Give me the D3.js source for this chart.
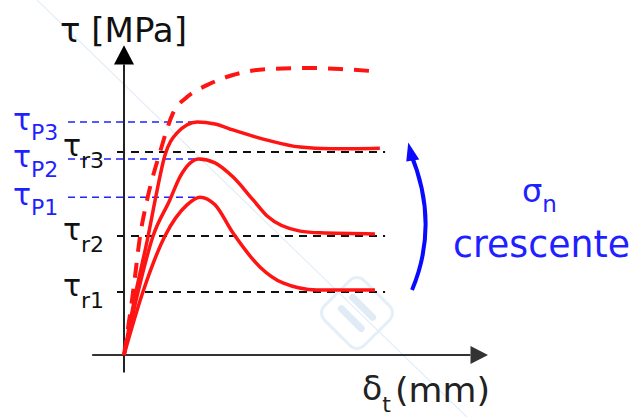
<!DOCTYPE html>
<html>
<head>
<meta charset="utf-8">
<script src="https://d3js.org/d3.v7.min.js"></script>
<style>
  body { margin: 0; background: #fff; }
  text { font-family: "DejaVu Sans", Verdana, sans-serif; }
</style>
</head>
<body>
<svg id="main_vis" width="635" height="417"></svg>
<script>
// ---- data (slip mm, shear MPa; arbitrary units) ----
var curve1 = [[0,0],[0.54,1.8],[1.17,3.4],[1.8,4.29],[2.17,4.51],[2.6,4.29],[3.11,3.49],[3.89,2.51],[4.54,2.06],[5.51,1.86],[7.17,1.86]];
var curve2 = [[0,0],[0.4,1.8],[0.83,3.4],[1.31,4.43],[1.6,5.09],[2.14,5.6],[2.6,5.49],[3.11,5.09],[3.69,4.43],[4.09,3.97],[5.03,3.54],[5.6,3.49],[7.17,3.46]];
var curve3 = [[0,0],[0.34,1.8],[0.69,3.4],[0.89,4.43],[1.17,5.71],[1.51,6.34],[2.09,6.66],[2.6,6.6],[3.11,6.43],[4.09,6.14],[5.03,5.94],[5.89,5.89],[7.31,5.91]];
var envelope = [[0,0],[0.26,1.8],[0.46,3.4],[0.66,4.43],[1.03,5.8],[1.4,6.91],[1.8,7.37],[2.37,7.71],[3.11,8.0],[4.09,8.17],[5.4,8.2],[6.17,8.17],[7.11,8.11]];

var peakLevels = [4.51, 5.6, 6.66];
var peakNames = ["P1", "P2", "P3"];
var resLevels = [1.8, 3.4, 5.8];
var resNames = ["r1", "r2", "r3"];

var svg = d3.select("#main_vis");

var x = d3.scaleLinear().domain([0, 10]).range([124, 474]);
var y = d3.scaleLinear().domain([0, 10]).range([355, 5]);

// faint watermark
svg.append("line")
  .attr("x1", 37).attr("y1", 0).attr("x2", 467).attr("y2", 417)
  .attr("stroke", "#e3eef8").attr("stroke-width", 1.2);
var wm = svg.append("g").attr("transform", "translate(357,313) rotate(45)");
wm.append("rect").attr("x", -28).attr("y", -28).attr("width", 56).attr("height", 56)
  .attr("rx", 10).attr("fill", "none").attr("stroke", "#e6eff8").attr("stroke-width", 3);
wm.append("line").attr("x1", -14).attr("y1", -8).attr("x2", 14).attr("y2", -8)
  .attr("stroke", "#e0ebf6").attr("stroke-width", 7).attr("stroke-linecap", "round");
wm.append("line").attr("x1", -14).attr("y1", 8).attr("x2", 14).attr("y2", 8)
  .attr("stroke", "#e0ebf6").attr("stroke-width", 7).attr("stroke-linecap", "round");

// reference lines
svg.selectAll("line.peak")
  .data(peakLevels)
  .enter().append("line")
  .attr("class", "peak")
  .attr("x1", x(-1.6)).attr("x2", x(2.2))
  .attr("y1", function(d) { return y(d); })
  .attr("y2", function(d) { return y(d); })
  .attr("stroke", "#2222ff").attr("stroke-width", 1.5)
  .attr("stroke-dasharray", "7,5");

svg.selectAll("line.res")
  .data(resLevels)
  .enter().append("line")
  .attr("class", "res")
  .attr("x1", x(-0.2)).attr("x2", x(7.46))
  .attr("y1", function(d) { return y(d); })
  .attr("y2", function(d) { return y(d); })
  .attr("stroke", "#111").attr("stroke-width", 2)
  .attr("stroke-dasharray", "8,6");

// axes
svg.append("line")
  .attr("x1", x(0)).attr("x2", x(0)).attr("y1", y(-0.5)).attr("y2", y(8.3))
  .attr("stroke", "#222").attr("stroke-width", 2);
svg.append("path")
  .attr("d", "M" + (x(0) - 10) + "," + y(8.3) + "L" + (x(0) + 10) + "," + y(8.3) + "L" + x(0) + "," + y(8.85) + "Z")
  .attr("fill", "#000");
svg.append("line")
  .attr("x1", x(-0.91)).attr("x2", x(9.9)).attr("y1", y(0)).attr("y2", y(0))
  .attr("stroke", "#333").attr("stroke-width", 2);
svg.append("path")
  .attr("d", "M" + x(9.9) + "," + (y(0) - 9) + "L" + x(9.9) + "," + (y(0) + 9) + "L" + x(10.4) + "," + y(0) + "Z")
  .attr("fill", "#333");

// curves
var line = d3.line()
  .x(function(d) { return x(d[0]); })
  .y(function(d) { return y(d[1]); })
  .curve(d3.curveMonotoneX);

[curve1, curve2, curve3].forEach(function(c) {
  svg.append("path").datum(c)
    .attr("fill", "none").attr("stroke", "#ff1414").attr("stroke-width", 3.5)
    .attr("stroke-linejoin", "round")
    .attr("d", line);
});
svg.append("path").datum(envelope)
  .attr("fill", "none").attr("stroke", "#ff1414").attr("stroke-width", 4)
  .attr("stroke-dasharray", "15,11")
  .attr("d", line);

// labels
var pl = svg.selectAll("text.plab")
  .data(peakLevels)
  .enter().append("text")
  .attr("class", "plab")
  .attr("x", 13)
  .attr("y", function(d) { return y(d) + 8; })
  .attr("fill", "#1f1fff");
pl.append("tspan").attr("font-size", 30).text("τ");
pl.append("tspan").attr("font-size", 22).attr("dy", 10)
  .text(function(d, i) { return peakNames[i]; });

var rl = svg.selectAll("text.rlab")
  .data(resLevels)
  .enter().append("text")
  .attr("class", "rlab")
  .attr("x", 63)
  .attr("y", function(d) { return y(d) + 4; })
  .attr("fill", "#111");
rl.append("tspan").attr("font-size", 30).text("τ");
rl.append("tspan").attr("font-size", 22).attr("dy", 12)
  .text(function(d, i) { return resNames[i]; });

svg.append("text")
  .attr("x", 60).attr("y", 42)
  .attr("font-size", 34).attr("fill", "#111")
  .text("τ [MPa]");

var xl = svg.append("text").attr("x", 362).attr("y", 400).attr("fill", "#222");
xl.append("tspan").attr("font-size", 33).text("δ");
xl.append("tspan").attr("font-size", 22).attr("dy", 12).text("t");
svg.append("text").attr("x", 395).attr("y", 402)
  .attr("font-size", 33).attr("fill", "#222")
  .attr("textLength", 95).attr("lengthAdjust", "spacingAndGlyphs")
  .text("(mm)");

// blue arrow: increasing normal stress
var ax0 = x(8.23), ay0 = y(1.86), ax1 = x(8.15), ay1 = y(5.9);
svg.append("path")
  .attr("d", "M" + ax0 + "," + ay0 + "Q" + (ax0 + 28) + "," + ((ay0 + ay1) / 2 + 4) + " " + (ax1 + 1) + "," + (ay1 + 4))
  .attr("fill", "none").attr("stroke", "#0a0aff").attr("stroke-width", 4);
svg.append("path")
  .attr("d", "M" + (ax1 - 1) + "," + (ay1 - 6) + "L" + (ax1 + 10) + "," + (ay1 + 11) + "L" + (ax1 - 3) + "," + (ay1 + 13) + "Z")
  .attr("fill", "#0a0aff");

var sl = svg.append("text").attr("x", 522).attr("y", 202).attr("fill", "#1f1fff");
sl.append("tspan").attr("font-size", 32).text("σ");
sl.append("tspan").attr("font-size", 23).attr("dy", 10).text("n");

svg.append("text").attr("x", 453).attr("y", 257)
  .attr("font-size", 37).attr("fill", "#1f1fff")
  .attr("textLength", 177).attr("lengthAdjust", "spacingAndGlyphs")
  .text("crescente");
</script>
</body>
</html>
